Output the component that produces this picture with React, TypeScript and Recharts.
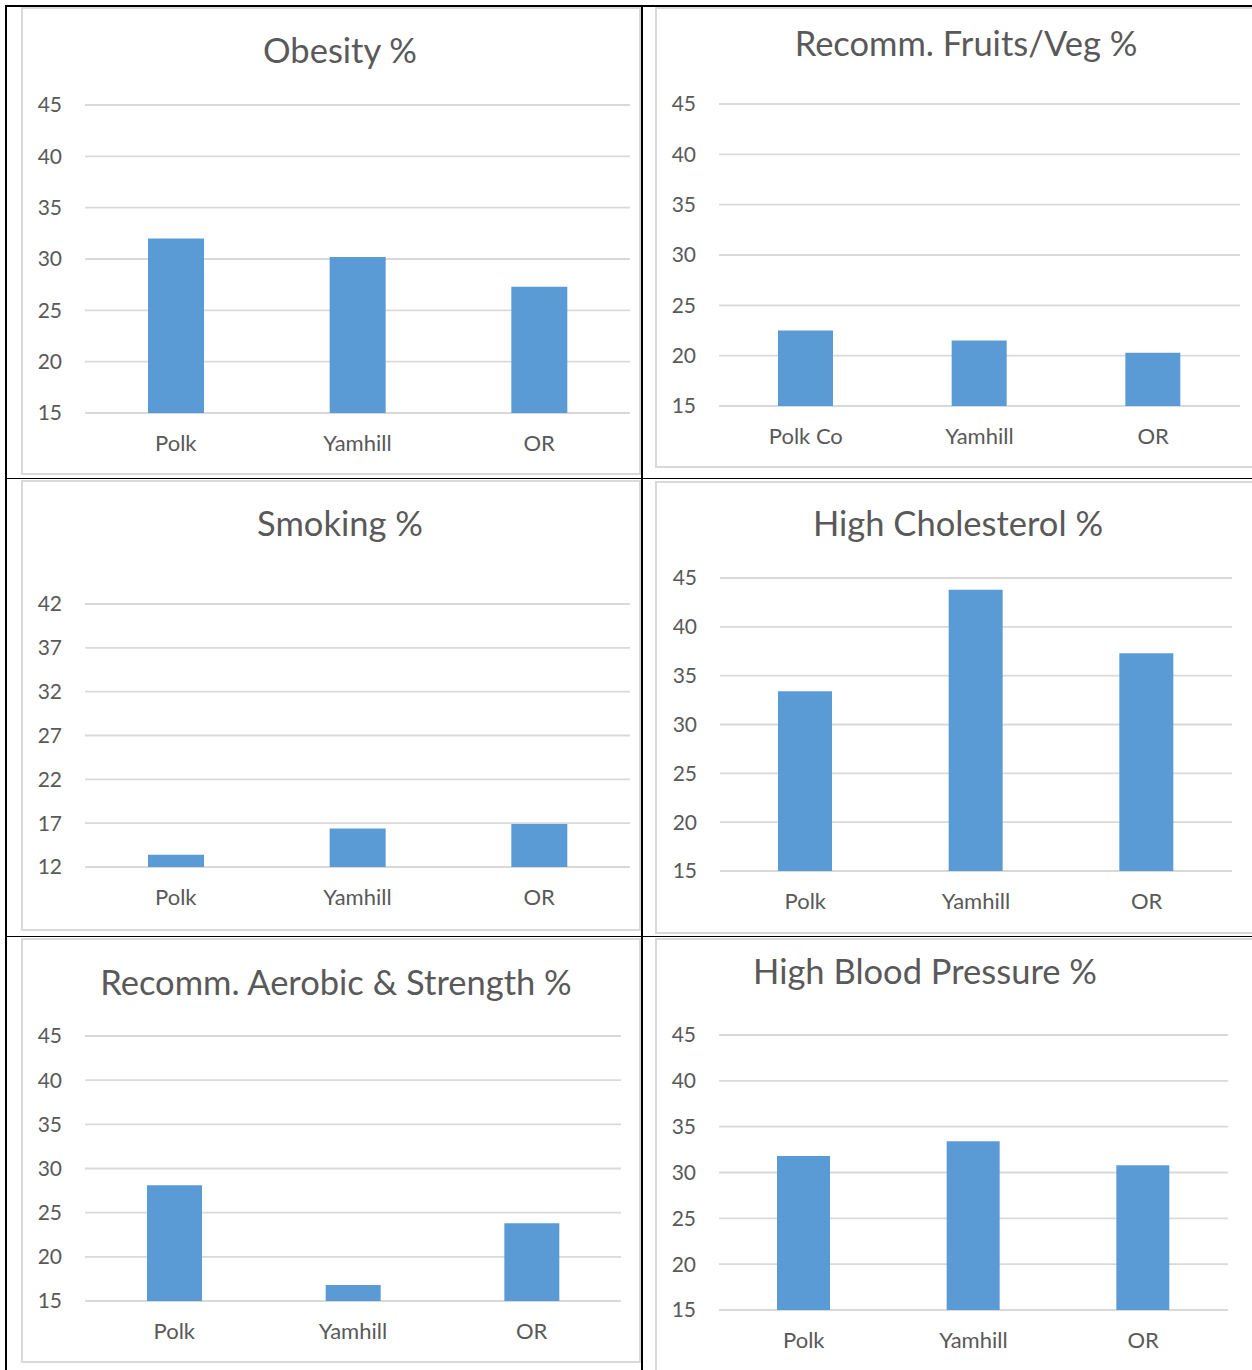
import React from 'react';
import { BarChart, Bar, XAxis, YAxis, CartesianGrid } from 'recharts';

// data
const categories = ['Polk', 'Yamhill', 'OR'];
const fruitCategories = ['Polk Co', 'Yamhill', 'OR'];

const obesityValues = [32.0, 30.2, 27.3];
const fruitVegValues = [22.5, 21.5, 20.3];
const smokingValues = [13.4, 16.4, 16.9];
const cholesterolValues = [33.4, 43.8, 37.3];
const aerobicValues = [28.1, 16.8, 23.8];
const bloodPressureValues = [31.8, 33.4, 30.8];

const ticks15to45 = [15, 20, 25, 30, 35, 40, 45];
const ticks12to42 = [12, 17, 22, 27, 32, 37, 42];

const titles = [
  'Obesity %',
  'Recomm. Fruits/Veg %',
  'Smoking %',
  'High Cholesterol %',
  'Recomm. Aerobic & Strength %',
  'High Blood Pressure %',
];

const FONT = 'Lato, "Open Sans", sans-serif';
const TEXT = '#595959';
const GRID = '#d9d9d9';
const BLUE = '#5b9bd5';

interface Panel {
  title: string;
  cats: string[];
  values: number[];
  ticks: number[];
  frame: { l: number; t: number; r: number; b: number };
  plot: { l: number; t: number; r: number; b: number };
  titleX: number;
  titleY: number;
  barSize: number;
}

const panels: Panel[] = [
  {
    title: titles[0], cats: categories, values: obesityValues, ticks: ticks15to45,
    frame: { l: 21, t: 7, r: 641, b: 475 }, plot: { l: 85, t: 105, r: 630, b: 413 },
    titleX: 340, titleY: 50, barSize: 56,
  },
  {
    title: titles[1], cats: fruitCategories, values: fruitVegValues, ticks: ticks15to45,
    frame: { l: 655, t: 7, r: 1262, b: 468 }, plot: { l: 719, t: 104, r: 1240, b: 406 },
    titleX: 966, titleY: 43, barSize: 55,
  },
  {
    title: titles[2], cats: categories, values: smokingValues, ticks: ticks12to42,
    frame: { l: 21, t: 480, r: 641, b: 931 }, plot: { l: 85, t: 604, r: 630, b: 867 },
    titleX: 340, titleY: 523, barSize: 56,
  },
  {
    title: titles[3], cats: categories, values: cholesterolValues, ticks: ticks15to45,
    frame: { l: 655, t: 481, r: 1262, b: 934 }, plot: { l: 720, t: 578, r: 1232, b: 871 },
    titleX: 958, titleY: 523, barSize: 54,
  },
  {
    title: titles[4], cats: categories, values: aerobicValues, ticks: ticks15to45,
    frame: { l: 21, t: 938, r: 641, b: 1363 }, plot: { l: 85, t: 1036, r: 621, b: 1301 },
    titleX: 336, titleY: 982, barSize: 55,
  },
  {
    title: titles[5], cats: categories, values: bloodPressureValues, ticks: ticks15to45,
    frame: { l: 655, t: 938, r: 1262, b: 1385 }, plot: { l: 719, t: 1035, r: 1228, b: 1310 },
    titleX: 925, titleY: 971, barSize: 53,
  },
];

function ChartPanel({ p }: { p: Panel }) {
  const w = p.frame.r - p.frame.l;
  const h = p.frame.b - p.frame.t;
  const data = p.cats.map((name, i) => ({ name, value: p.values[i] }));
  const titleSize = 34.5;
  return (
    <>
      <div
        style={{
          position: 'absolute', left: p.frame.l, top: p.frame.t, width: w, height: h,
          border: `2px solid ${GRID}`, boxSizing: 'border-box',
        }}
      />
      <div
        style={{
          position: 'absolute', left: p.titleX - 300, width: 600, top: p.titleY - 21,
          height: 42, lineHeight: '42px', textAlign: 'center',
          fontFamily: FONT, fontSize: titleSize, color: TEXT, whiteSpace: 'nowrap',
        }}
      >
        {p.title}
      </div>
      <div style={{ position: 'absolute', left: p.frame.l, top: p.frame.t }}>
        <BarChart
          width={w}
          height={h}
          data={data}
          margin={{ top: p.plot.t - p.frame.t, right: p.frame.r - p.plot.r, left: 0, bottom: 0 }}
        >
          <CartesianGrid vertical={false} stroke={GRID} strokeWidth={1.8} />
          <XAxis
            dataKey="name"
            height={p.frame.b - p.plot.b}
            axisLine={false}
            tickLine={false}
            tickSize={0}
            tickMargin={22}
            tick={{ fill: TEXT, fontSize: 22, fontFamily: FONT }}
          />
          <YAxis
            type="number"
            domain={[p.ticks[0], p.ticks[p.ticks.length - 1]]}
            ticks={p.ticks}
            interval={0}
            width={p.plot.l - p.frame.l}
            axisLine={false}
            tickLine={false}
            tickSize={0}
            tickMargin={23}
            tick={{ fill: TEXT, fontSize: 21, fontFamily: FONT }}
          />
          <Bar dataKey="value" fill={BLUE} barSize={p.barSize} isAnimationActive={false} />
        </BarChart>
      </div>
    </>
  );
}

export default function App() {
  return (
    <div
      style={{
        position: 'absolute', left: 0, top: 0, width: 1252, height: 1370,
        overflow: 'hidden', background: '#fff',
      }}
    >
      {panels.map((p) => (
        <ChartPanel key={p.title} p={p} />
      ))}
      {/* table borders */}
      <div style={{ position: 'absolute', left: 5, top: 5, width: 1260, height: 2, background: '#000' }} />
      <div style={{ position: 'absolute', left: 5, top: 5, width: 2, height: 1380, background: '#000' }} />
      <div style={{ position: 'absolute', left: 641, top: 5, width: 1.5, height: 1380, background: '#000' }} />
      <div style={{ position: 'absolute', left: 5, top: 477.5, width: 1260, height: 1.5, background: '#000' }} />
      <div style={{ position: 'absolute', left: 5, top: 935.5, width: 1260, height: 1.5, background: '#000' }} />
    </div>
  );
}
